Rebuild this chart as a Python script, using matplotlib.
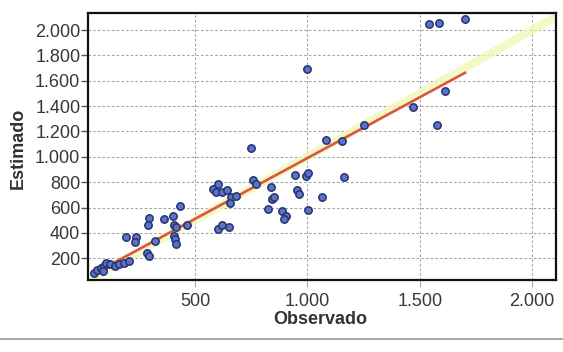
import matplotlib
matplotlib.use("Agg")
import matplotlib.pyplot as plt
import numpy as np
from matplotlib.ticker import FuncFormatter, FixedLocator
from matplotlib.lines import Line2D

# Observed vs. estimated values
observado = [49, 66, 80, 97, 106, 124, 142, 164, 186, 208, 89,
             193, 237, 233, 288, 297, 322, 294, 290, 360, 400, 405, 415, 406, 411, 416, 463, 435,
             580, 602, 594, 621, 643, 661, 683, 657, 602, 619, 650,
             751, 758, 771, 823, 839, 844, 853, 889, 903, 895,
             944, 993, 1002, 955, 964, 1001, 1066, 998, 1084, 1155, 1163,
             1252, 1468, 1577, 1614, 1542, 1586, 1701]
estimado = [82, 106, 122, 139, 163, 156, 141, 157, 166, 175, 99,
            364, 365, 326, 241, 218, 337, 518, 462, 512, 530, 459, 443, 372, 349, 309, 461, 610,
            750, 783, 719, 720, 737, 682, 691, 635, 427, 459, 445,
            1073, 820, 789, 586, 760, 666, 682, 573, 534, 510,
            859, 845, 869, 741, 710, 577, 682, 1690, 1133, 1128, 844,
            1250, 1393, 1255, 1517, 2051, 2053, 2089]

# Fitted regression line (estimado = a + b * observado)
reg_intercept = 30
reg_slope = 0.96

x_ticks = [500, 1000, 1500, 2000]
y_ticks = [200, 400, 600, 800, 1000, 1200, 1400, 1600, 1800, 2000]

plt.rcParams["font.family"] = ["Liberation Sans", "DejaVu Sans"]

fig = plt.figure(figsize=(5.63, 3.52), dpi=100, facecolor="white")
ax = fig.add_axes([88 / 563, 1 - 280 / 352, (556 - 88) / 563, (280 - 13) / 352])
ax.set_facecolor("white")

ax.set_xlim(24, 2106)
ax.set_ylim(28, 2135)

# 1:1 reference line
ref = np.array([0, 2200])
ax.plot(ref, ref, color="#f0f6b4", lw=6, alpha=0.75, solid_capstyle="butt", zorder=2)

# Regression line over the observed range
xr = np.array([min(observado), max(observado)])
ax.plot(xr, reg_intercept + reg_slope * xr, color="#d9573f", lw=1.9, zorder=3)

ax.scatter(observado, estimado, s=28, facecolor="#5b72c6", edgecolor="#25336f",
           linewidth=1.1, zorder=4)

fmt = FuncFormatter(lambda v, p: f"{v:,.0f}".replace(",", "."))
ax.xaxis.set_major_locator(FixedLocator(x_ticks))
ax.yaxis.set_major_locator(FixedLocator(y_ticks))
ax.xaxis.set_major_formatter(fmt)
ax.yaxis.set_major_formatter(fmt)

ax.grid(True, color="#a3a3a3", lw=0.75, linestyle=(0, (2.5, 2)), zorder=1)
ax.set_axisbelow(True)

ax.tick_params(axis="y", length=5, width=1, color="#555555", pad=0.5,
               labelsize=13, labelcolor="#383838")
ax.tick_params(axis="x", length=5, width=0.8, color="#aaaaaa", pad=4,
               labelsize=13, labelcolor="#383838")

for s in ax.spines.values():
    s.set_color("#111111")
    s.set_linewidth(1.6)

fig.text(18 / 563, 1 - 148 / 352, "Estimado", rotation=90, ha="center", va="center",
         fontsize=13, fontweight="bold", color="#333333")
fig.text(320 / 563, 1 - 320 / 352, "Observado", ha="center", va="center",
         fontsize=13, fontweight="bold", color="#333333")

# Thin page rule beneath the chart
fig.add_artist(Line2D([0, 1], [1 - 339 / 352, 1 - 339 / 352], transform=fig.transFigure,
                      color="#9a9a9a", lw=1.2))

fig.savefig("out.png", dpi=100, facecolor="white")
